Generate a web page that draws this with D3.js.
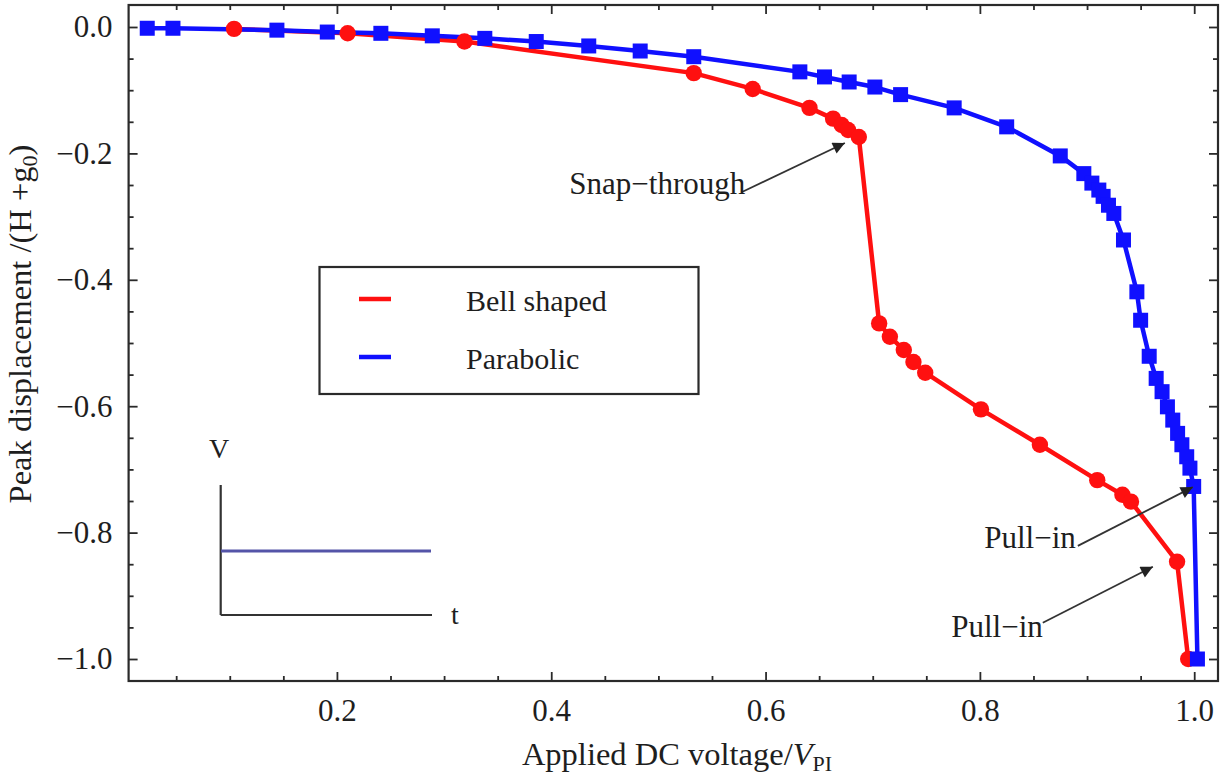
<!DOCTYPE html>
<html>
<head>
<meta charset="utf-8">
<script src="https://cdn.jsdelivr.net/npm/d3@7"></script>
<style>
  html, body { margin: 0; padding: 0; background: #fff; }
  svg { display: block; }
  text { font-family: "Liberation Serif", "DejaVu Serif", serif; fill: #1e1e1e; }
</style>
</head>
<body>
<svg id="chart" width="1225" height="782"></svg>
<script>
// Peak displacement vs applied DC voltage, bell shaped vs parabolic profile
const bellVoltage = [0.104, 0.210, 0.319, 0.533, 0.588, 0.641, 0.663, 0.671, 0.677, 0.687,
                     0.706, 0.716, 0.729, 0.738, 0.749, 0.801, 0.856, 0.9095, 0.933, 0.941, 0.984, 0.9944];
const bellDisp    = [-0.003, -0.010, -0.023, -0.073, -0.098, -0.128, -0.145, -0.155, -0.163, -0.174,
                     -0.469, -0.490, -0.511, -0.530, -0.547, -0.605, -0.661, -0.717, -0.740, -0.751, -0.846, -1.0];

const paraVoltage = [0.023, 0.047, 0.144, 0.191, 0.241, 0.289, 0.338, 0.386, 0.435, 0.483,
                     0.533, 0.632, 0.655, 0.678, 0.702, 0.726, 0.776, 0.825, 0.875, 0.897,
                     0.9045, 0.911, 0.915, 0.920, 0.925, 0.934, 0.9465, 0.950, 0.958, 0.9645,
                     0.970, 0.975, 0.980, 0.9845, 0.9885, 0.993, 0.996, 0.9995, 1.003];
const paraDisp    = [-0.002, -0.002, -0.005, -0.008, -0.010, -0.014, -0.018, -0.023, -0.030, -0.038,
                     -0.047, -0.071, -0.079, -0.087, -0.095, -0.107, -0.128, -0.158, -0.204, -0.232,
                     -0.247, -0.258, -0.268, -0.282, -0.295, -0.337, -0.419, -0.464, -0.521, -0.556,
                     -0.577, -0.601, -0.622, -0.643, -0.661, -0.680, -0.698, -0.727, -1.0];

const seriesNames = ["Bell shaped", "Parabolic"];
const seriesColors = ["#ff1010", "#1010ff"];

const xTicks = [0.2, 0.4, 0.6, 0.8, 1.0];
const xTickLabels = ["0.2", "0.4", "0.6", "0.8", "1.0"];
const xMinorTicks = [0.05, 0.1, 0.15, 0.25, 0.3, 0.35, 0.45, 0.5, 0.55, 0.65, 0.7, 0.75, 0.85, 0.9, 0.95];
const yTicks = [0.0, -0.2, -0.4, -0.6, -0.8, -1.0];
const yTickLabels = ["0.0", "\u22120.2", "\u22120.4", "\u22120.6", "\u22120.8", "\u22121.0"];
const yMinorTicks = [-0.05, -0.1, -0.15, -0.25, -0.3, -0.35, -0.45, -0.5, -0.55,
                     -0.65, -0.7, -0.75, -0.85, -0.9, -0.95];

// annotation arrows: label, text anchor (v, d), arrow tail (v, d), arrow head (v, d)
const notes = [
  {label: "Snap\u2212through", at: [0.581, -0.264], from: [0.578, -0.261], to: [0.674, -0.1835]},
  {label: "Pull\u2212in",      at: [0.8895, -0.824], from: [0.8914, -0.821], to: [0.9987, -0.728]},
  {label: "Pull\u2212in",      at: [0.8587, -0.9647], from: [0.8587, -0.9426], to: [0.9614, -0.854]}
];

const svg = d3.select("#chart");
const frame = {left: 128.6, right: 1218, top: 5, bottom: 681};

const x = d3.scaleLinear().domain([0.0056, 1.0222]).range([frame.left, frame.right]);
const y = d3.scaleLinear().domain([0.0348, -1.0348]).range([frame.top, frame.bottom]);

const axisColor = "#2a2a2a";
const serif = "'Liberation Serif', 'DejaVu Serif', serif";

// arrow head
svg.append("defs").append("marker")
  .attr("id", "head").attr("viewBox", "0 0 10 10")
  .attr("refX", 10).attr("refY", 5)
  .attr("markerWidth", 20).attr("markerHeight", 12)
  .attr("markerUnits", "userSpaceOnUse")
  .attr("orient", "auto")
  .append("path").attr("d", "M0,0 L10,5 L0,10 Z").attr("fill", "#222");

// ticks on all four sides, pointing inward
function styleAxis(g) {
  g.attr("font-family", serif).attr("font-size", 31);
  g.select(".domain").remove();
  g.selectAll(".tick line").attr("stroke", axisColor).attr("stroke-width", 1.8);
  g.selectAll("text").attr("font-family", serif).style("font-family", serif)
    .style("font-size", "31px").attr("fill", "#1e1e1e");
}
const labelOf = (vals, labels) => d => labels[vals.indexOf(d)];

svg.append("g").attr("transform", `translate(0,${frame.bottom})`)
  .call(d3.axisBottom(x).tickValues(xTicks).tickFormat(labelOf(xTicks, xTickLabels)).tickSize(-9).tickPadding(18))
  .call(styleAxis);
svg.append("g").attr("transform", `translate(0,${frame.bottom})`)
  .call(d3.axisBottom(x).tickValues(xMinorTicks).tickFormat("").tickSize(-5)).call(styleAxis);
svg.append("g").attr("transform", `translate(0,${frame.top})`)
  .call(d3.axisTop(x).tickValues(xTicks).tickFormat("").tickSize(-9)).call(styleAxis);
svg.append("g").attr("transform", `translate(0,${frame.top})`)
  .call(d3.axisTop(x).tickValues(xMinorTicks).tickFormat("").tickSize(-5)).call(styleAxis);

svg.append("g").attr("transform", `translate(${frame.left},0)`)
  .call(d3.axisLeft(y).tickValues(yTicks).tickFormat(labelOf(yTicks, yTickLabels)).tickSize(-9).tickPadding(16))
  .call(styleAxis);
svg.append("g").attr("transform", `translate(${frame.left},0)`)
  .call(d3.axisLeft(y).tickValues(yMinorTicks).tickFormat("").tickSize(-5)).call(styleAxis);
svg.append("g").attr("transform", `translate(${frame.right},0)`)
  .call(d3.axisRight(y).tickValues(yTicks).tickFormat("").tickSize(-9)).call(styleAxis);
svg.append("g").attr("transform", `translate(${frame.right},0)`)
  .call(d3.axisRight(y).tickValues(yMinorTicks).tickFormat("").tickSize(-5)).call(styleAxis);

// frame
svg.append("rect")
  .attr("x", frame.left).attr("y", frame.top)
  .attr("width", frame.right - frame.left).attr("height", frame.bottom - frame.top)
  .attr("fill", "none").attr("stroke", axisColor).attr("stroke-width", 2.2);

// axis titles
const xTitle = svg.append("text")
  .attr("x", 677).attr("y", 765).attr("text-anchor", "middle").style("font-size", "32.5px");
xTitle.append("tspan").text("Applied DC voltage/");
xTitle.append("tspan").style("font-style", "italic").text("V");
xTitle.append("tspan").attr("dy", 6).style("font-size", "22px").text("PI");

const yTitle = svg.append("text")
  .attr("transform", "translate(31,324) rotate(-90)")
  .attr("text-anchor", "middle").style("font-size", "32.5px");
yTitle.append("tspan").text("Peak displacement /(H +g");
yTitle.append("tspan").attr("dy", 6).style("font-size", "22px").text("0");
yTitle.append("tspan").attr("dy", -6).text(")");

// series
const bell = bellVoltage.map((v, i) => [v, bellDisp[i]]);
const para = paraVoltage.map((v, i) => [v, paraDisp[i]]);
const line = d3.line().x(d => x(d[0])).y(d => y(d[1]));

const plot = svg.append("g");
plot.append("path").datum(bell).attr("d", line)
  .attr("fill", "none").attr("stroke", seriesColors[0]).attr("stroke-width", 4.5).attr("stroke-linejoin", "round");
plot.append("path").datum(para).attr("d", line)
  .attr("fill", "none").attr("stroke", seriesColors[1]).attr("stroke-width", 4.5).attr("stroke-linejoin", "round");

plot.selectAll("circle.bell").data(bell).join("circle").attr("class", "bell")
  .attr("cx", d => x(d[0])).attr("cy", d => y(d[1])).attr("r", 8.2)
  .attr("fill", seriesColors[0]);

const sq = 15;
plot.selectAll("rect.para").data(para).join("rect").attr("class", "para")
  .attr("x", d => x(d[0]) - sq / 2).attr("y", d => y(d[1]) - sq / 2)
  .attr("width", sq).attr("height", sq)
  .attr("fill", seriesColors[1]);

// annotations
const ann = svg.append("g");
notes.forEach(n => {
  ann.append("line")
    .attr("x1", x(n.from[0])).attr("y1", y(n.from[1]))
    .attr("x2", x(n.to[0])).attr("y2", y(n.to[1]))
    .attr("stroke", "#333").attr("stroke-width", 1.8)
    .attr("marker-end", "url(#head)");
  ann.append("text")
    .attr("x", x(n.at[0])).attr("y", y(n.at[1]))
    .attr("text-anchor", "end").style("font-size", "31px")
    .text(n.label);
});

// legend
const legend = svg.append("g");
legend.append("rect").attr("x", 319.5).attr("y", 267).attr("width", 379).attr("height", 127)
  .attr("fill", "#fff").attr("stroke", axisColor).attr("stroke-width", 2.2);
seriesNames.forEach((name, i) => {
  const ly = 299 + i * 58;
  legend.append("line").attr("x1", 359).attr("x2", 391).attr("y1", ly).attr("y2", ly)
    .attr("stroke", seriesColors[i]).attr("stroke-width", 4.5);
  legend.append("text").attr("x", 466).attr("y", ly + 12).style("font-size", "30px").text(name);
});

// inset: constant applied voltage against time
const inset = svg.append("g");
inset.append("line").attr("x1", 220.7).attr("x2", 220.7).attr("y1", 485).attr("y2", 615)
  .attr("stroke", "#333").attr("stroke-width", 2.2);
inset.append("line").attr("x1", 220.7).attr("x2", 432).attr("y1", 615).attr("y2", 615)
  .attr("stroke", "#333").attr("stroke-width", 2.2);
inset.append("line").attr("x1", 221).attr("x2", 431).attr("y1", 551).attr("y2", 551)
  .attr("stroke", "#5454a8").attr("stroke-width", 3);
inset.append("text").attr("x", 219).attr("y", 458).attr("text-anchor", "middle")
  .style("font-size", "28px").text("V");
inset.append("text").attr("x", 455).attr("y", 624).attr("text-anchor", "middle")
  .style("font-size", "28px").text("t");
</script>
</body>
</html>
